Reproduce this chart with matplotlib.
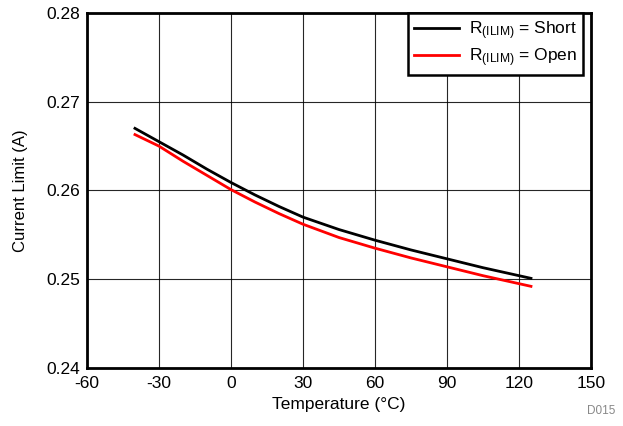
import matplotlib
matplotlib.use("Agg")
import matplotlib.pyplot as plt

plt.rcParams["font.family"] = ["Liberation Sans", "DejaVu Sans"]
plt.rcParams["mathtext.default"] = "regular"
plt.rcParams["axes.unicode_minus"] = False

temp_c = [-40, -30, -20, -10, 0, 10, 20, 30, 45, 60, 75, 90, 105, 120, 125]
ilim_short = [0.2670, 0.2655, 0.2640, 0.2624, 0.2609, 0.2595, 0.2582, 0.2570,
              0.2556, 0.2544, 0.2533, 0.2523, 0.2513, 0.2504, 0.2501]
ilim_open = [0.2663, 0.2650, 0.2633, 0.2617, 0.2601, 0.2587, 0.2574, 0.2562,
             0.2547, 0.2535, 0.2524, 0.2514, 0.2504, 0.2495, 0.2492]

x_ticks = [-60, -30, 0, 30, 60, 90, 120, 150]
y_ticks = [0.24, 0.25, 0.26, 0.27, 0.28]

fig = plt.figure(figsize=(6.23, 4.26), dpi=100)
ax = fig.add_axes([0.1396, 0.1362, 0.809, 0.8333])

ax.plot(temp_c, ilim_short, color="black", lw=2, label="R$_{(ILIM)}$ = Short")
ax.plot(temp_c, ilim_open, color="red", lw=2, label="R$_{(ILIM)}$ = Open")

ax.set_xlim(-60, 150)
ax.set_ylim(0.24, 0.28)
ax.set_xticks(x_ticks)
ax.set_yticks(y_ticks)
ax.set_yticklabels([f"{v:.2f}" for v in y_ticks])
ax.grid(True, color="black", lw=0.8, alpha=0.85)
ax.tick_params(length=0, labelsize=12.5)
ax.tick_params(axis="x", pad=6)
ax.tick_params(axis="y", pad=5)
for s in ax.spines.values():
    s.set_linewidth(2)

ax.set_xlabel("Temperature (°C)", fontsize=12.5, labelpad=4)
ax.set_ylabel("Current Limit (A)", fontsize=12, labelpad=13)

leg = ax.legend(loc="upper right", bbox_to_anchor=(0.985, 1.0), borderaxespad=0,
                fontsize=12.5, fancybox=False, framealpha=1, handlelength=2.6,
                labelspacing=0.25, handletextpad=0.6, borderpad=0.35)
leg.get_frame().set_edgecolor("black")
leg.get_frame().set_linewidth(1.8)

fig.text(0.987, 0.035, "D015", ha="right", va="center", fontsize=8.5, color="#888888")

fig.savefig("out.png", dpi=100)
